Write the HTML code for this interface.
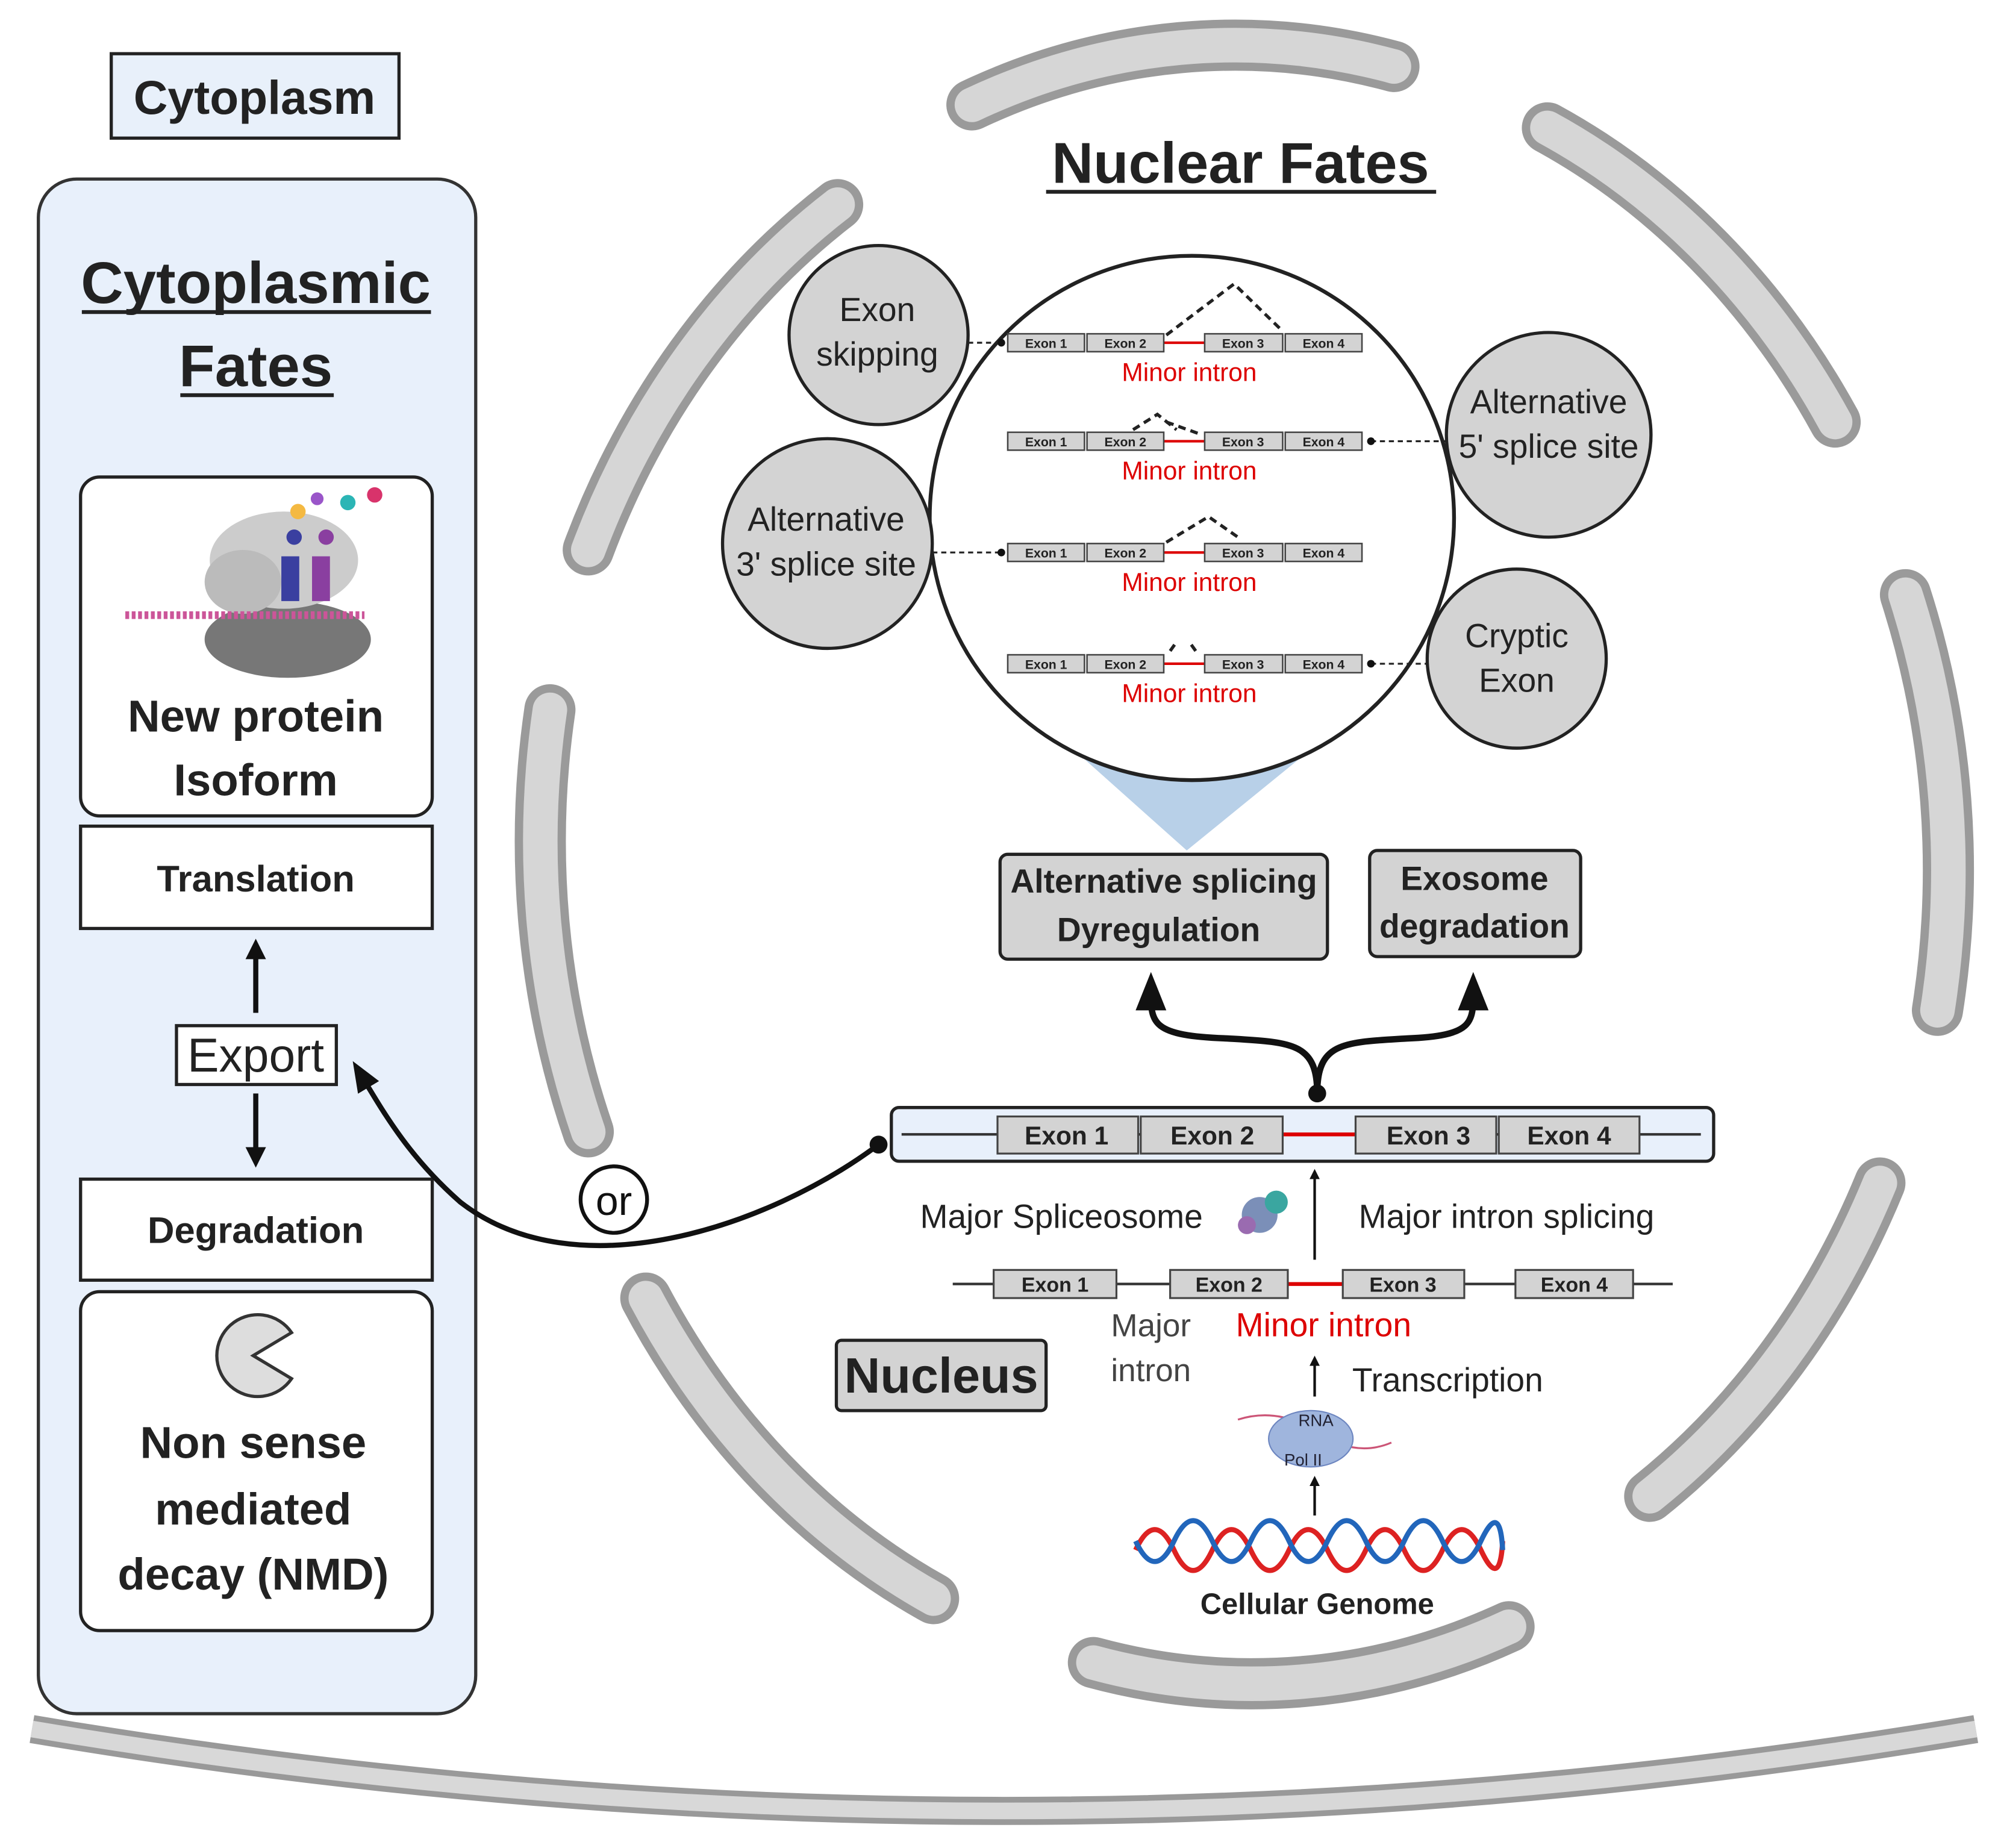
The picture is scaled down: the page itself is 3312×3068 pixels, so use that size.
<!DOCTYPE html>
<html><head><meta charset="utf-8"><style>html,body{margin:0;padding:0;background:#fff}svg{display:block}text{font-family:"Liberation Sans",sans-serif}</style></head><body>
<svg width="3312" height="3068" viewBox="0 0 1560 1445" preserveAspectRatio="none" xmlns="http://www.w3.org/2000/svg">
<defs>
<marker id="ah" viewBox="0 0 10 10" refX="5" refY="5" markerWidth="4" markerHeight="4" orient="auto-start-reverse"><path d="M0,0L10,5L0,10z" fill="#111"/></marker>
<marker id="as" viewBox="0 0 10 10" refX="5" refY="5" markerWidth="6" markerHeight="6" orient="auto-start-reverse"><path d="M0,1L10,5L0,9z" fill="#111"/></marker>
<g id="r">
<line x1="910" y1="0" x2="942" y2="0" stroke="#d00" stroke-width="2"/>
<g fill="#d3d3d3" stroke="#444" stroke-width="1.2">
<rect x="788" y="-7" width="60" height="14"/><rect x="850" y="-7" width="60" height="14"/><rect x="942" y="-7" width="61" height="14"/><rect x="1005" y="-7" width="60" height="14"/></g>
<g font-size="10" font-weight="bold" text-anchor="middle" fill="#222"><text x="818" y="4">Exon 1</text><text x="880" y="4">Exon 2</text><text x="972" y="4">Exon 3</text><text x="1035" y="4">Exon 4</text></g>
<text x="930" y="30" font-size="20" text-anchor="middle" fill="#d00">Minor intron</text>
</g>
</defs>
<!-- bottom membrane -->
<path d="M25,1352 Q785,1480 1545,1352" fill="none" stroke="#999" stroke-width="22"/>
<path d="M25,1352 Q785,1480 1545,1352" fill="none" stroke="#d8d8d8" stroke-width="13"/>
<!-- nuclear envelope -->
<g fill="none" stroke-linecap="round">
<g stroke="#9a9a9a" stroke-width="40">
<path d="M760,82 A540 620 0 0 1 1090,52"/>
<path d="M1210,100 A540 620 0 0 1 1435,330"/>
<path d="M1490,465 A540 620 0 0 1 1515,790"/>
<path d="M1470,925 A540 620 0 0 1 1290,1170"/>
<path d="M1180,1272 A540 620 0 0 1 855,1300"/>
<path d="M730,1250 A540 620 0 0 1 505,1015"/>
<path d="M460,885 A540 620 0 0 1 430,555"/>
<path d="M460,430 A540 620 0 0 1 655,160"/>
</g>
<g stroke="#d6d6d6" stroke-width="27">
<path d="M760,82 A540 620 0 0 1 1090,52"/>
<path d="M1210,100 A540 620 0 0 1 1435,330"/>
<path d="M1490,465 A540 620 0 0 1 1515,790"/>
<path d="M1470,925 A540 620 0 0 1 1290,1170"/>
<path d="M1180,1272 A540 620 0 0 1 855,1300"/>
<path d="M730,1250 A540 620 0 0 1 505,1015"/>
<path d="M460,885 A540 620 0 0 1 430,555"/>
<path d="M460,430 A540 620 0 0 1 655,160"/>
</g></g>
<!-- Cytoplasm label -->
<rect x="87" y="42" width="225" height="66" fill="#e8f0fa" stroke="#222" stroke-width="2.5"/>
<text x="199" y="89" font-size="37" font-weight="bold" text-anchor="middle" fill="#222">Cytoplasm</text>
<!-- left panel -->
<rect x="30" y="140" width="342" height="1200" rx="30" fill="#e8f0fb" stroke="#333" stroke-width="2.5"/>
<text x="200" y="237" font-size="46" font-weight="bold" text-anchor="middle" fill="#222">Cytoplasmic</text>
<text x="200" y="302" font-size="46" font-weight="bold" text-anchor="middle" fill="#222">Fates</text>
<line x1="64" y1="244" x2="337" y2="244" stroke="#222" stroke-width="3"/>
<line x1="141" y1="309" x2="261" y2="309" stroke="#222" stroke-width="3"/>
<rect x="63" y="373" width="275" height="265" rx="15" fill="#fff" stroke="#222" stroke-width="2.5"/>
<!-- ribosome -->
<ellipse cx="225" cy="500" rx="65" ry="30" fill="#777"/>
<ellipse cx="222" cy="438" rx="58" ry="38" fill="#ccc"/>
<ellipse cx="190" cy="455" rx="30" ry="25" fill="#bbb"/>
<line x1="98" y1="481" x2="285" y2="481" stroke="#c59" stroke-width="6" stroke-dasharray="3 2"/>
<rect x="220" y="435" width="14" height="35" fill="#3a3fa0"/><rect x="244" y="435" width="14" height="35" fill="#8a3fa0"/>
<circle cx="230" cy="420" r="6" fill="#3a3fa0"/><circle cx="255" cy="420" r="6" fill="#8a3fa0"/>
<circle cx="233" cy="400" r="6" fill="#f4b942"/><circle cx="248" cy="390" r="5" fill="#9a55c9"/><circle cx="272" cy="393" r="6" fill="#2bb5b5"/><circle cx="293" cy="387" r="6" fill="#d8336b"/>
<text x="200" y="572" font-size="35" font-weight="bold" text-anchor="middle" fill="#222">New protein</text>
<text x="200" y="622" font-size="35" font-weight="bold" text-anchor="middle" fill="#222">Isoform</text>
<rect x="63" y="646" width="275" height="80" fill="#fff" stroke="#222" stroke-width="2.5"/>
<text x="200" y="697" font-size="29" font-weight="bold" text-anchor="middle" fill="#222">Translation</text>
<line x1="200" y1="792" x2="200" y2="742" stroke="#111" stroke-width="4" marker-end="url(#ah)"/>
<rect x="138" y="802" width="125" height="46" fill="#fff" stroke="#222" stroke-width="2.5"/>
<text x="200" y="838" font-size="37" text-anchor="middle" fill="#222">Export</text>
<line x1="200" y1="855" x2="200" y2="905" stroke="#111" stroke-width="4" marker-end="url(#ah)"/>
<rect x="63" y="922" width="275" height="79" fill="#fff" stroke="#222" stroke-width="2.5"/>
<text x="200" y="972" font-size="29" font-weight="bold" text-anchor="middle" fill="#222">Degradation</text>
<rect x="63" y="1010" width="275" height="265" rx="15" fill="#fff" stroke="#222" stroke-width="2.5"/>
<path d="M198,1060 L228,1042 A32 32 0 1 0 228,1078 Z" fill="#ddd" stroke="#333" stroke-width="2.5"/>
<text x="198" y="1140" font-size="35" font-weight="bold" text-anchor="middle" fill="#222">Non sense</text>
<text x="198" y="1192" font-size="35" font-weight="bold" text-anchor="middle" fill="#222">mediated</text>
<text x="198" y="1243" font-size="35" font-weight="bold" text-anchor="middle" fill="#222">decay (NMD)</text>
<!-- Nuclear fates -->
<text x="970" y="143" font-size="45" font-weight="bold" text-anchor="middle" fill="#222">Nuclear Fates</text>
<line x1="818" y1="150" x2="1123" y2="150" stroke="#222" stroke-width="3"/>
<polygon points="835,582 1030,582 928,665" fill="#b8d0e8"/>
<circle cx="932" cy="405" r="205" fill="#fff" stroke="#222" stroke-width="3"/>
<g fill="#d3d3d3" stroke="#222" stroke-width="2.5">
<circle cx="687" cy="262" r="70"/><circle cx="1211" cy="340" r="80"/><circle cx="647" cy="425" r="82"/><circle cx="1186" cy="515" r="70"/>
</g>
<g font-size="26" text-anchor="middle" fill="#222">
<text x="686" y="251">Exon</text><text x="686" y="286">skipping</text>
<text x="1211" y="323">Alternative</text><text x="1211" y="358">5' splice site</text>
<text x="646" y="415">Alternative</text><text x="646" y="450">3' splice site</text>
<text x="1186" y="506">Cryptic</text><text x="1186" y="541">Exon</text>
</g>
<use href="#r" transform="translate(0,268)"/>
<use href="#r" transform="translate(0,345)"/>
<use href="#r" transform="translate(0,432)"/>
<use href="#r" transform="translate(0,519)"/>
<g fill="none" stroke="#222" stroke-width="2.5" stroke-dasharray="6 4">
<path d="M912,262 L965,222 L1002,258"/>
<path d="M886,336 L905,324 L920,336 M912,330 L940,340"/>
<path d="M912,424 L945,404 L968,420"/>
<path d="M915,509 L920,502 M935,509 L930,502"/>
</g>
<g stroke="#222" stroke-width="1.5" stroke-dasharray="4 3" fill="none">
<line x1="757" y1="268" x2="783" y2="268"/><line x1="1072" y1="345" x2="1131" y2="345"/><line x1="729" y1="432" x2="783" y2="432"/><line x1="1072" y1="519" x2="1116" y2="519"/></g>
<g fill="#111"><circle cx="783" cy="268" r="3"/><circle cx="1072" cy="345" r="3"/><circle cx="783" cy="432" r="3"/><circle cx="1072" cy="519" r="3"/></g>
<!-- boxes -->
<rect x="782" y="668" width="256" height="82" rx="6" fill="#d3d3d3" stroke="#222" stroke-width="2.5"/>
<text x="910" y="698" font-size="26" font-weight="bold" text-anchor="middle" fill="#222">Alternative splicing</text>
<text x="906" y="736" font-size="26" font-weight="bold" text-anchor="middle" fill="#222">Dyregulation</text>
<rect x="1071" y="665" width="165" height="83" rx="6" fill="#d3d3d3" stroke="#222" stroke-width="2.5"/>
<text x="1153" y="696" font-size="26" font-weight="bold" text-anchor="middle" fill="#222">Exosome</text>
<text x="1153" y="733" font-size="26" font-weight="bold" text-anchor="middle" fill="#222">degradation</text>
<path d="M1030,855 C1030,815 1010,815 960,812 C900,810 900,800 900,775" fill="none" stroke="#111" stroke-width="5" marker-end="url(#as)"/>
<path d="M1030,855 C1030,815 1050,815 1100,812 C1152,810 1152,800 1152,775" fill="none" stroke="#111" stroke-width="5" marker-end="url(#as)"/>
<circle cx="1030" cy="855" r="7" fill="#111"/>
<!-- main transcript -->
<rect x="697" y="866" width="643" height="42" rx="6" fill="#e8f0fb" stroke="#222" stroke-width="2.5"/>
<line x1="705" y1="887" x2="1330" y2="887" stroke="#333" stroke-width="2"/>
<line x1="1003" y1="887" x2="1060" y2="887" stroke="#d00" stroke-width="3"/>
<g fill="#d3d3d3" stroke="#444" stroke-width="1.5"><rect x="780" y="873" width="110" height="29"/><rect x="892" y="873" width="111" height="29"/><rect x="1060" y="873" width="110" height="29"/><rect x="1172" y="873" width="110" height="29"/></g>
<g font-size="20" font-weight="bold" text-anchor="middle" fill="#222"><text x="834" y="895">Exon 1</text><text x="948" y="895">Exon 2</text><text x="1117" y="895">Exon 3</text><text x="1227" y="895">Exon 4</text></g>
<path d="M687,895 C600,960 450,1010 360,940 C320,905 300,870 282,840" fill="none" stroke="#111" stroke-width="4" marker-end="url(#as)"/>
<circle cx="687" cy="895" r="7" fill="#111"/>
<circle cx="480" cy="938" r="26" fill="#fff" stroke="#111" stroke-width="3"/>
<text x="480" y="950" font-size="32" text-anchor="middle" fill="#111">or</text>
<text x="830" y="960" font-size="26" text-anchor="middle" fill="#222">Major Spliceosome</text>
<text x="1178" y="960" font-size="26" text-anchor="middle" fill="#222">Major intron splicing</text>
<circle cx="985" cy="950" r="14" fill="#7b8fb8"/><circle cx="998" cy="940" r="9" fill="#3aa6a0"/><circle cx="975" cy="958" r="7" fill="#9a6bb0"/>
<line x1="1028" y1="985" x2="1028" y2="918" stroke="#111" stroke-width="2" marker-end="url(#ah)"/>
<!-- second gene -->
<line x1="745" y1="1004" x2="1308" y2="1004" stroke="#333" stroke-width="2"/>
<line x1="1007" y1="1004" x2="1050" y2="1004" stroke="#d00" stroke-width="3"/>
<g fill="#d3d3d3" stroke="#444" stroke-width="1.5"><rect x="777" y="993" width="96" height="22"/><rect x="915" y="993" width="92" height="22"/><rect x="1050" y="993" width="95" height="22"/><rect x="1185" y="993" width="92" height="22"/></g>
<g font-size="16" font-weight="bold" text-anchor="middle" fill="#222"><text x="825" y="1010">Exon 1</text><text x="961" y="1010">Exon 2</text><text x="1097" y="1010">Exon 3</text><text x="1231" y="1010">Exon 4</text></g>
<text x="900" y="1045" font-size="25" text-anchor="middle" fill="#444">Major</text>
<text x="900" y="1080" font-size="25" text-anchor="middle" fill="#444">intron</text>
<text x="1035" y="1045" font-size="26" text-anchor="middle" fill="#d00">Minor intron</text>
<rect x="654" y="1048" width="164" height="55" rx="4" fill="#d3d3d3" stroke="#222" stroke-width="2.5"/>
<text x="736" y="1089" font-size="39" font-weight="bold" text-anchor="middle" fill="#222">Nucleus</text>
<line x1="1028" y1="1092" x2="1028" y2="1064" stroke="#111" stroke-width="2" marker-end="url(#ah)"/>
<text x="1132" y="1088" font-size="26" text-anchor="middle" fill="#222">Transcription</text>
<path d="M968,1110 Q1000,1100 1030,1120 T1088,1128" fill="none" stroke="#c57" stroke-width="1.5"/>
<ellipse cx="1025" cy="1125" rx="33" ry="22" fill="#9fb5dd" stroke="#6d86c0"/>
<text x="1029" y="1115" font-size="13" text-anchor="middle" fill="#223">RNA</text>
<text x="1019" y="1146" font-size="13" text-anchor="middle" fill="#223">Pol II</text>
<line x1="1028" y1="1185" x2="1028" y2="1158" stroke="#111" stroke-width="2" marker-end="url(#ah)"/>
<path d="M888,1212 Q903,1180 918,1212 T948,1212 T978,1212 T1008,1212 T1038,1212 T1068,1212 T1098,1212 T1128,1212 T1158,1212 T1175,1205" fill="none" stroke="#d22" stroke-width="4"/>
<path d="M888,1205 Q903,1237 918,1205 T948,1205 T978,1205 T1008,1205 T1038,1205 T1068,1205 T1098,1205 T1128,1205 T1158,1205 T1175,1212" fill="none" stroke="#2266bb" stroke-width="4"/>
<text x="1030" y="1262" font-size="23" font-weight="bold" text-anchor="middle" fill="#222">Cellular Genome</text>
</svg>
</body></html>
